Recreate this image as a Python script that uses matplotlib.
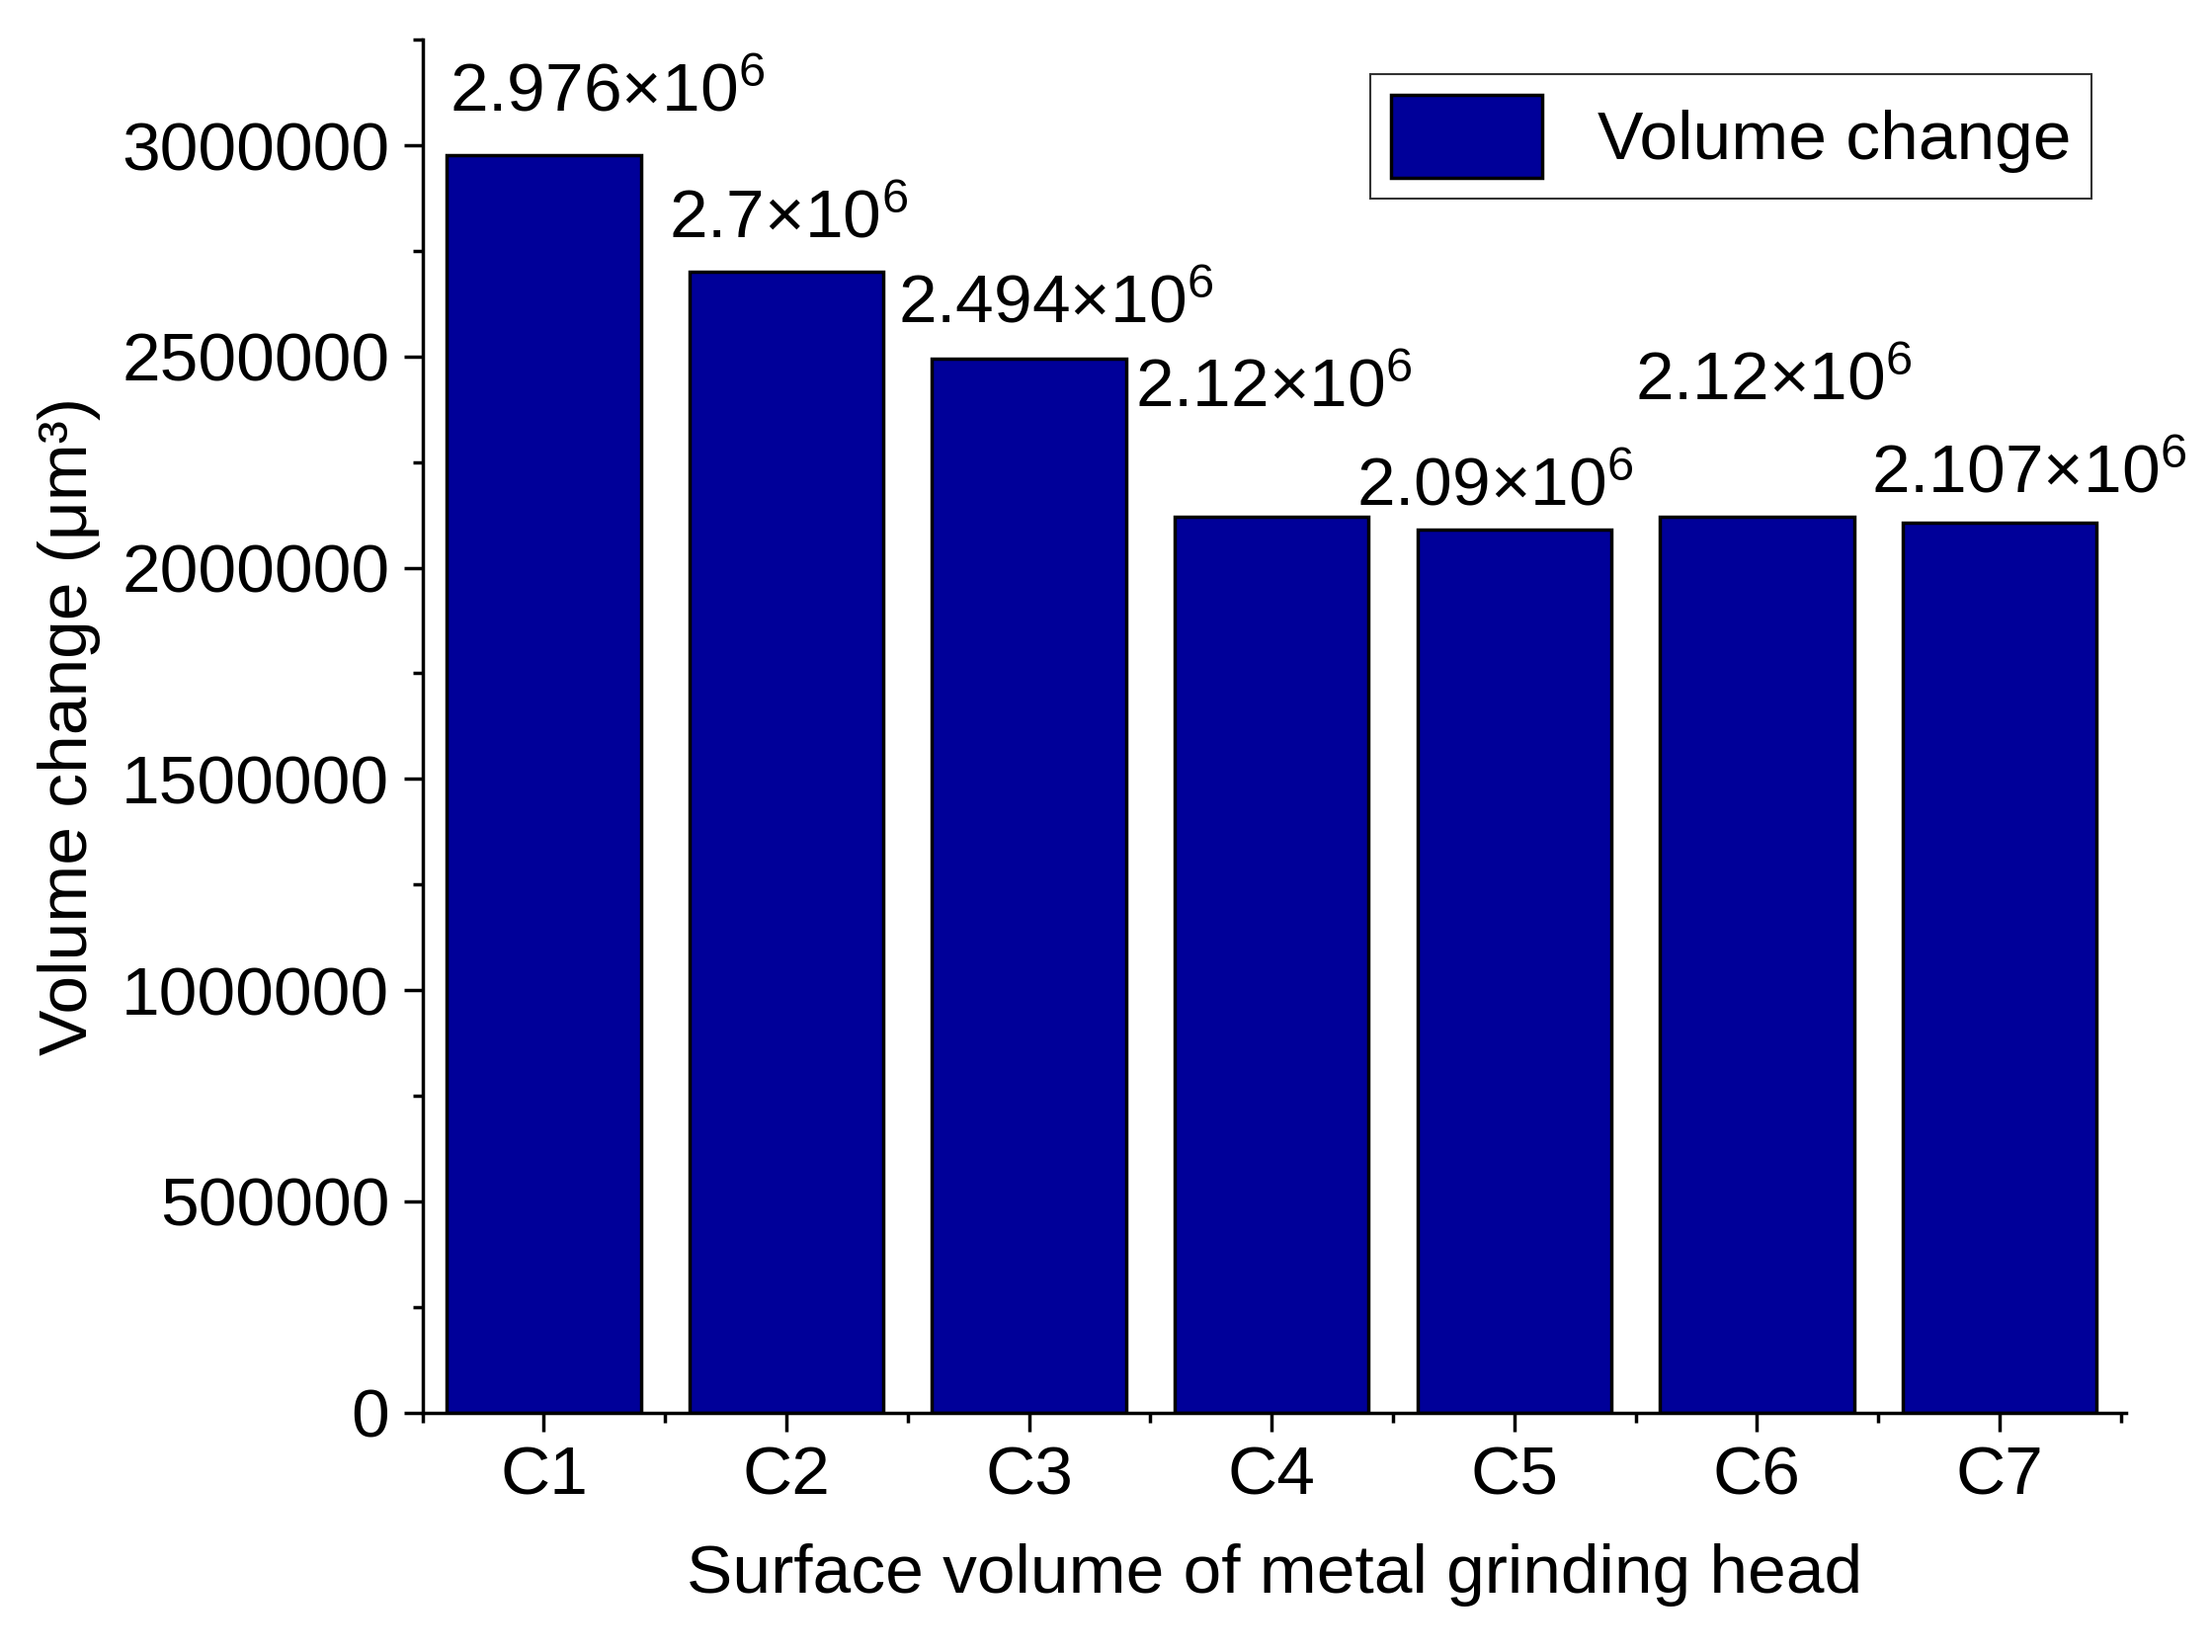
import matplotlib
matplotlib.use("Agg")
import matplotlib.pyplot as plt

categories = ["C1", "C2", "C3", "C4", "C5", "C6", "C7"]
values = [2976000, 2700000, 2494000, 2120000, 2090000, 2120000, 2107000]
labels = [r"$\mathregular{2.976{\times}10^6}$", r"$\mathregular{2.7{\times}10^6}$",
          r"$\mathregular{2.494{\times}10^6}$", r"$\mathregular{2.12{\times}10^6}$",
          r"$\mathregular{2.09{\times}10^6}$", r"$\mathregular{2.12{\times}10^6}$",
          r"$\mathregular{2.107{\times}10^6}$"]
label_x = [0.26, 1.01, 2.11, 3.01, 3.92, 5.07, 6.12]
label_y = [3123000, 2823000, 2623000, 2423000, 2190000, 2440000, 2220000]

plt.rcParams['font.family'] = ['Liberation Sans', 'DejaVu Sans']
fs = 50
fig = plt.figure(figsize=(22.39, 16.72), dpi=100)
ax = fig.add_axes([0.191, 0.145, 0.770, 0.831])
x = range(len(categories))
ax.bar(x, values, width=0.8, color="#000099", edgecolor="black", linewidth=2.5, label="Volume change")
for xi, yi, t in zip(label_x, label_y, labels):
    ax.text(xi, yi, t, ha="center", va="center", fontsize=fs)
ax.set_xlim(-0.5, 6.52)
ax.set_ylim(0, 3250000)
ax.set_xticks(list(x))
ax.set_xticklabels(categories)
ax.set_yticks(range(0, 3000001, 500000))
ax.set_yticks(range(0, 3250001, 250000), minor=True)
ax.set_xticks([i + 0.5 for i in range(-1, 7)], minor=True)
ax.ticklabel_format(axis='y', style='plain')
ax.tick_params(axis='both', which='major', labelsize=fs, length=14, width=2.5, pad=10)
ax.tick_params(axis='both', which='minor', length=7, width=2.5)
for s in ["top", "right"]:
    ax.spines[s].set_visible(False)
for s in ["left", "bottom"]:
    ax.spines[s].set_linewidth(2.5)
ax.set_xlabel("Surface volume of metal grinding head", fontsize=fs, labelpad=25)
ax.set_ylabel("Volume change (μm³)", fontsize=fs, labelpad=15)
leg = ax.legend(loc="upper right", fontsize=fs, frameon=True, fancybox=False,
                edgecolor="black", handlelength=2.2, handleheight=1.5, borderpad=0.3)
leg.get_frame().set_linewidth(1.5)
fig.savefig("out.png", dpi=100)
